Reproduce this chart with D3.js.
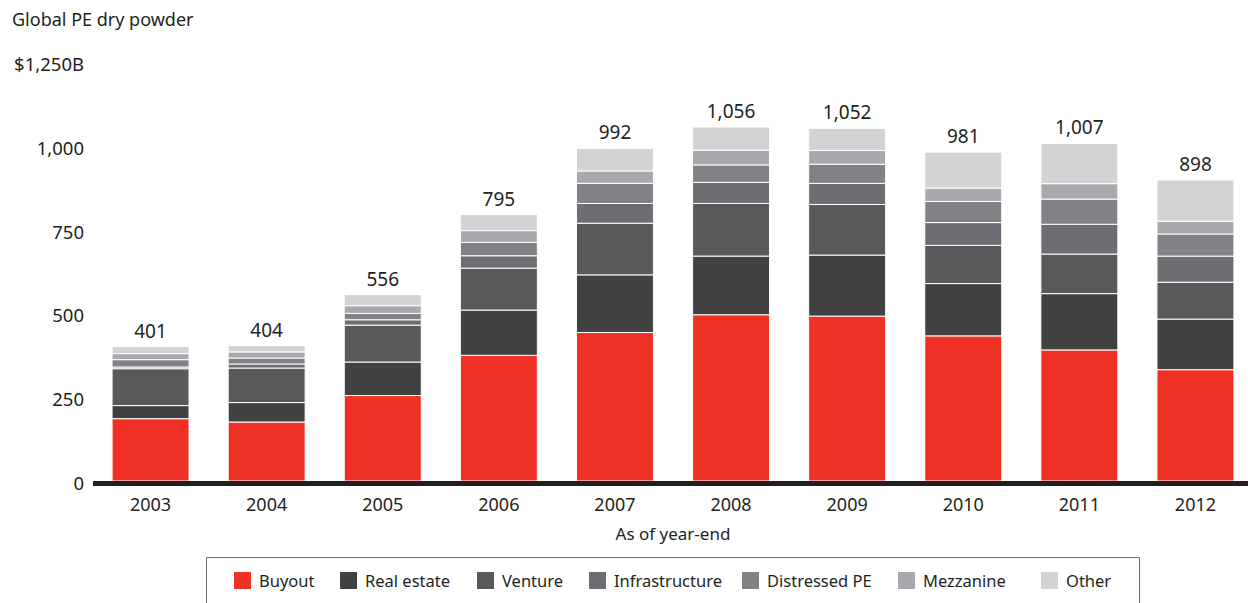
<!DOCTYPE html>
<html>
<head>
<meta charset="utf-8">
<script src="https://cdnjs.cloudflare.com/ajax/libs/d3/7.8.5/d3.min.js"></script>
<style>
  body { margin: 0; background: #fff; }
  svg { display: block; font-family: "Noto Sans", sans-serif; }
</style>
</head>
<body>
<div id="chart"></div>
<script>
// Data (in $B)
const years = ["2003", "2004", "2005", "2006", "2007", "2008", "2009", "2010", "2011", "2012"];
const buyout = [186, 176, 255, 375, 443, 496, 492, 433, 391, 332];
const realEstate = [39, 58, 100, 135, 172, 175, 182, 156, 168, 151];
const venture = [110, 103, 110, 125, 154, 157, 151, 114, 118, 110];
const infrastructure = [5, 12, 16, 37, 59, 63, 63, 68, 89, 78];
const distressedPE = [22, 18, 19, 40, 60, 52, 57, 63, 75, 66];
const mezzanine = [18, 18, 23, 35, 37, 44, 41, 40, 46, 38];
const other = [21, 19, 33, 48, 67, 69, 66, 107, 120, 123];
const totals = [401, 404, 556, 795, 992, 1056, 1052, 981, 1007, 898];
const yTicks = [0, 250, 500, 750, 1000, 1250];

const seriesNames = ["Buyout", "Real estate", "Venture", "Infrastructure", "Distressed PE", "Mezzanine", "Other"];
const seriesValues = [buyout, realEstate, venture, infrastructure, distressedPE, mezzanine, other];
const colors = ["#ee3124", "#414141", "#58595b", "#6d6e71", "#808285", "#a7a9ac", "#d1d3d4"];

const svgWidth = 1248, svgHeight = 603;

const svg = d3.select('#chart').append('svg')
  .attr('width', svgWidth)
  .attr('height', svgHeight);

// Build rows for the stack
const rows = years.map((y, i) => {
  const row = {year: y};
  seriesNames.forEach((name, j) => { row[name] = seriesValues[j][i]; });
  return row;
});
const stacked = d3.stack().keys(seriesNames)(rows);

// Scales
const xScale = d3.scaleBand()
  .domain(years)
  .range([92.5, 1253.5])
  .paddingInner(0.337)
  .paddingOuter(0.1685);

const yScale = d3.scaleLinear()
  .domain([0, 1250])
  .range([481, 62]);

const color = d3.scaleOrdinal().domain(seriesNames).range(colors);

// Title
svg.append("text")
  .attr("x", 12)
  .attr("y", 26)
  .style("font-size", "18px")
  .style("fill", "#231f20")
  .text("Global PE dry powder");

// Y axis (labels only)
const yAxis = d3.axisLeft(yScale)
  .tickValues(yTicks)
  .tickSize(0)
  .tickPadding(9)
  .tickFormat(d => d === 1250 ? "$1,250B" : d3.format(",")(d));

svg.append("g")
  .attr("class", "y axis")
  .attr("transform", "translate(93,2.5)")
  .call(yAxis)
  .call(g => g.select(".domain").remove())
  .call(g => g.selectAll("text")
    .style("font-family", "'Noto Sans', sans-serif")
    .style("font-size", "18.5px")
    .style("fill", "#231f20"));

// Bars
const layer = svg.selectAll(".layer")
  .data(stacked)
  .enter().append("g")
    .attr("class", "layer")
    .attr("fill", d => color(d.key));

layer.selectAll("rect")
  .data(d => d)
  .enter().append("rect")
    .attr("x", d => xScale(d.data.year))
    .attr("y", d => yScale(d[1]))
    .attr("width", xScale.bandwidth())
    .attr("height", d => yScale(d[0]) - yScale(d[1]))
    .attr("stroke", "#fff")
    .attr("stroke-width", 1);

// Totals above bars
svg.selectAll(".total")
  .data(years)
  .enter().append("text")
    .attr("class", "total")
    .attr("x", d => xScale(d) + xScale.bandwidth() / 2)
    .attr("y", (d, i) => yScale(totals[i]) - 9)
    .attr("text-anchor", "middle")
    .style("font-size", "19px")
    .style("fill", "#231f20")
    .text((d, i) => d3.format(",")(totals[i]));

// X axis line
svg.append("line")
  .attr("x1", 93)
  .attr("x2", 1248)
  .attr("y1", 483.5)
  .attr("y2", 483.5)
  .attr("stroke", "#231f20")
  .attr("stroke-width", 5);

// X axis labels
const xAxis = d3.axisBottom(xScale).tickSize(0).tickPadding(15);
svg.append("g")
  .attr("class", "x axis")
  .attr("transform", "translate(0,483)")
  .call(xAxis)
  .call(g => g.select(".domain").remove())
  .call(g => g.selectAll("text")
    .style("font-family", "'Noto Sans', sans-serif")
    .style("font-size", "18px")
    .style("fill", "#231f20"));

svg.append("text")
  .attr("x", 673)
  .attr("y", 540)
  .attr("text-anchor", "middle")
  .style("font-size", "17px")
  .style("fill", "#231f20")
  .text("As of year-end");

// Legend box (open at bottom)
svg.append("path")
  .attr("d", "M206.5,610 V557.5 H1139.5 V610")
  .attr("fill", "none")
  .attr("stroke", "#6d6e71")
  .attr("stroke-width", 1);

const legendX = [234, 340, 477, 589, 742, 898, 1041];
const legend = svg.selectAll(".legend")
  .data(seriesNames)
  .enter().append("g")
    .attr("class", "legend")
    .attr("transform", (d, i) => "translate(" + legendX[i] + ",572)");

legend.append("rect")
  .attr("width", 17)
  .attr("height", 17)
  .attr("fill", d => color(d));

legend.append("text")
  .attr("x", 25)
  .attr("y", 9)
  .attr("dy", "0.35em")
  .style("font-size", "16.5px")
  .style("fill", "#231f20")
  .text(d => d);
</script>
</body>
</html>
